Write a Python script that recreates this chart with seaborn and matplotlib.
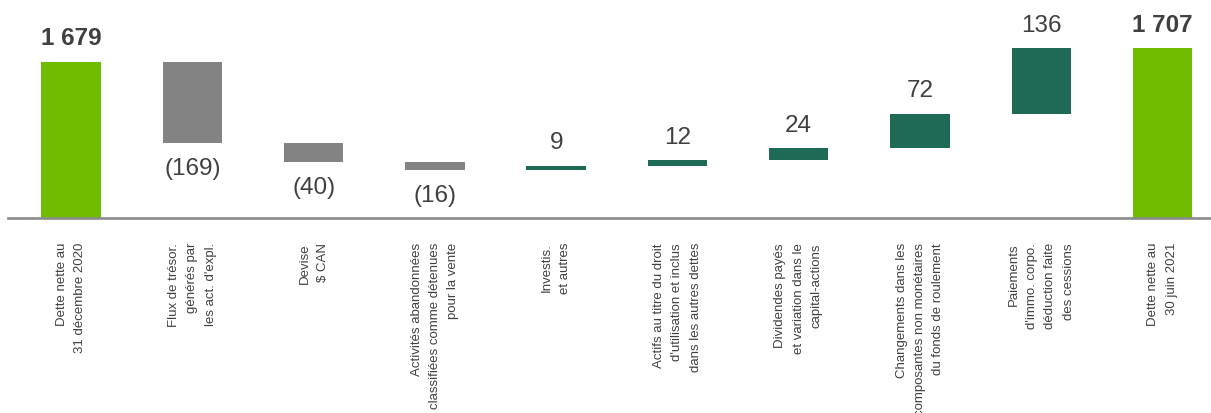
import numpy as np
import pandas as pd
import matplotlib
matplotlib.use("Agg")
import matplotlib.pyplot as plt
import seaborn as sns

categories = [
    "Dette nette au\n31 décembre 2020",
    "Flux de trésor.\ngénérés par\nles act. d'expl.",
    "Devise\n$ CAN",
    "Activités abandonnées\nclassifiées comme détenues\npour la vente",
    "Investis.\net autres",
    "Actifs au titre du droit\nd'utilisation et inclus\ndans les autres dettes",
    "Dividendes payés\net variation dans le\ncapital-actions",
    "Changements dans les\ncomposantes non monétaires\ndu fonds de roulement",
    "Paiements\nd'immo. corpo.\ndéduction faite\ndes cessions",
    "Dette nette au\n30 juin 2021",
]
start_value = 1679
changes = [-169, -40, -16, 9, 12, 24, 72, 136]
end_value = 1707

sns.set_theme(style="white")
plt.rcParams["font.family"] = ["Liberation Sans", "DejaVu Sans"]

# waterfall geometry
levels = start_value + np.cumsum(changes)
prev = np.concatenate([[start_value], levels[:-1]])
tops = [start_value] + list(np.maximum(prev, levels)) + [end_value]
bottoms = [0] + list(np.minimum(prev, levels)) + [0]
kinds = ["total"] + ["neg" if c < 0 else "pos" for c in changes] + ["total"]
values = [start_value] + changes + [end_value]

def fmt(v, kind):
    if kind == "total":
        return f"{v:,}".replace(",", " ")
    return f"({abs(v)})" if v < 0 else f"{v}"

labels = [fmt(v, k) for v, k in zip(values, kinds)]

df = pd.DataFrame({"cat": categories, "top": tops, "bottom": bottoms, "kind": kinds})
palette = {"total": "#6FBC00", "neg": "#838383", "pos": "#1E6A55"}

fig = plt.figure(figsize=(12.11, 4.13), dpi=100)
ax = fig.add_axes([8 / 1211, 1 - 218 / 413, 1 - 8 / 1211, 218 / 413])

sns.barplot(data=df, x="cat", y="top", hue="kind", palette=palette, dodge=False,
            width=0.49, saturation=1, legend=False, linewidth=0, ax=ax)
sns.barplot(data=df, x="cat", y="bottom", color="white", width=0.49,
            saturation=1, linewidth=0, ax=ax)

ax.set_ylim(1354, 1807)
ax.set_xlim(-0.52, 9.4)
ax.set_xlabel("")
ax.set_ylabel("")
ax.set_yticks([])

for s in ["top", "left", "right"]:
    ax.spines[s].set_visible(False)
ax.spines["bottom"].set_color("#8C8C8C")
ax.spines["bottom"].set_linewidth(1.9)
ax.spines["bottom"].set_zorder(5)

ax.set_xticks(range(len(categories)))
ax.set_xticklabels(categories, rotation=90, ha="center", va="top",
                   fontsize=9.5, color="#404040", linespacing=1.7)
for t in ax.get_xticklabels():
    t.set_multialignment("right")
ax.tick_params(axis="x", length=0, pad=18)

for i, (lab, kind) in enumerate(zip(labels, kinds)):
    if kind == "neg":
        ax.annotate(lab, xy=(i, bottoms[i]), xytext=(0, -11), textcoords="offset points",
                    ha="center", va="top", fontsize=17.5, color="#404040")
    else:
        ax.annotate(lab, xy=(i, tops[i]), xytext=(0, 8), textcoords="offset points",
                    ha="center", va="bottom", fontsize=17.5, color="#404040",
                    fontweight="bold" if kind == "total" else "normal")

fig.savefig("out.png", dpi=100)
